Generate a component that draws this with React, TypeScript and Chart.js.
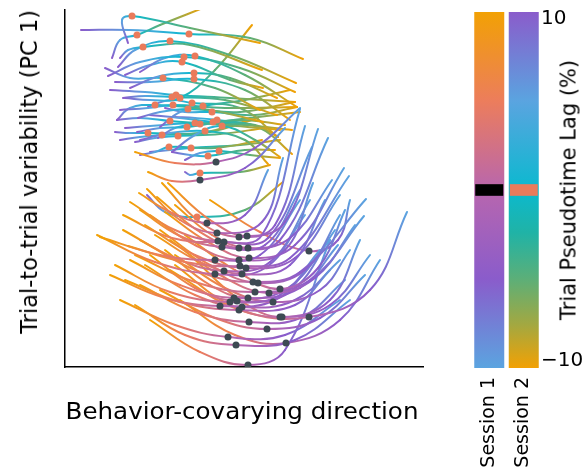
import React, { useEffect, useRef } from "react";
import { Chart, registerables } from "chart.js";

Chart.register(...registerables);

type Pt = [number, number];

// Trajectories in (behavior-covarying direction, trial-to-trial variability) units.
// Each runs from lag +10 % (first point) to lag -10 % (last point); the middle point is lag 0.
const session1Trajectories: Pt[][] = [
  [[70, 215], [110, 204], [151, 205], [190, 219], [235, 259]],
  [[83, 195], [107, 186], [135, 187], [180, 199], [220, 239]],
  [[74, 174], [105, 155], [142, 144], [180, 152], [203, 197]],
  [[82, 178], [115, 147], [152, 134], [197, 145], [218, 209]],
  [[97, 184], [135, 145], [174, 130], [210, 142], [240, 241]],
  [[103, 184], [145, 147], [182, 131], [220, 145], [253, 238]],
  [[65, 165], [110, 137], [153, 126], [197, 132], [235, 258]],
  [[58, 152], [107, 129], [159, 125], [203, 129], [247, 220]],
  [[75, 157], [115, 131], [157, 120], [200, 122], [235, 177]],
  [[92, 170], [135, 135], [174, 119], [215, 127], [263, 229]],
  [[110, 162], [147, 132], [183, 119], [225, 129], [267, 187]],
  [[35, 130], [95, 112], [150, 107], [195, 112], [235, 167]],
  [[85, 152], [130, 122], [174, 107], [220, 117], [248, 184]],
  [[100, 155], [143, 125], [184, 109], [230, 122], [279, 199]],
  [[63, 121], [120, 105], [175, 101], [225, 109], [284, 191]],
  [[80, 142], [130, 112], [181, 99], [230, 109], [275, 172]],
  [[90, 132], [135, 105], [177, 93], [225, 102], [260, 167]],
  [[32, 132], [90, 105], [150, 93], [200, 99], [240, 152]],
  [[58, 137], [110, 109], [159, 96], [205, 105], [245, 167]],
  [[75, 127], [135, 95], [188, 85], [235, 95], [301, 168]],
  [[95, 137], [145, 102], [193, 84], [240, 97], [275, 152]],
  [[70, 112], [130, 85], [190, 75], [245, 87], [299, 151]],
  [[105, 127], [155, 92], [204, 74], [250, 89], [290, 142]],
  [[120, 132], [170, 97], [215, 78], [253, 99], [280, 157]],
  [[65, 107], [115, 82], [169, 69], [220, 77], [265, 127]],
  [[50, 102], [105, 75], [165, 65], [215, 72], [255, 117]],
  [[85, 112], [130, 79], [172, 66], [225, 75], [270, 137]],
  [[100, 117], [145, 82], [183, 69], [235, 79], [273, 122]],
  [[110, 112], [160, 79], [208, 65], [255, 77], [285, 117]],
  [[45, 92], [100, 69], [155, 61], [210, 67], [250, 107]],
  [[80, 102], [130, 72], [177, 60], [230, 67], [275, 107]],
  [[60, 87], [115, 65], [174, 57], [230, 62], [265, 97]],
  [[110, 102], [165, 62], [215, 50], [265, 62], [305, 112]],
  [[125, 112], [175, 67], [217, 50], [265, 67], [295, 127]],
  [[105, 97], [175, 57], [244, 50], [305, 77], [342, 155]],
  [[75, 82], [130, 55], [184, 45], [235, 49], [280, 87]],
  [[95, 77], [150, 49], [202, 38], [255, 49], [300, 92]],
  [[55, 67], [110, 42], [163, 30], [220, 32], [275, 67]],
  [[70, 62], [120, 32], [171, 22], [230, 27], [285, 67]],
  [[115, 67], [170, 32], [221, 24], [275, 47], [315, 107]],
  [[85, 47], [135, 15], [183, 2], [220, 17], [265, 127]],
  [[145, 167], [195, 135], [244, 116], [273, 127], [285, 167]],
];

const session2Trajectories: Pt[][] = [
  [[63, 324], [57, 347], [67, 351], [125, 339], [195, 324]],
  [[47, 309], [55, 327], [72, 332], [95, 342], [138, 359]],
  [[55, 309], [63, 317], [78, 320], [125, 322], [197, 297]],
  [[16, 337], [65, 337], [124, 333], [185, 329], [238, 308]],
  [[53, 300], [70, 317], [105, 326], [165, 312], [231, 284]],
  [[43, 291], [75, 305], [119, 310], [175, 299], [230, 275]],
  [[75, 295], [100, 309], [130, 311], [180, 292], [232, 260]],
  [[60, 292], [85, 302], [117, 305], [165, 287], [198, 279]],
  [[65, 279], [95, 291], [129, 294], [165, 289], [212, 269]],
  [[50, 285], [85, 285], [129, 288], [180, 277], [225, 247]],
  [[40, 299], [65, 289], [98, 289], [150, 279], [195, 257]],
  [[58, 269], [80, 271], [107, 270], [160, 267], [212, 252]],
  [[45, 277], [80, 275], [111, 272], [165, 269], [230, 265]],
  [[60, 269], [85, 267], [115, 269], [150, 297], [187, 342]],
  [[55, 257], [83, 259], [108, 262], [160, 259], [232, 260]],
  [[52, 247], [65, 259], [90, 262], [145, 257], [198, 245]],
  [[83, 260], [105, 267], [127, 264], [175, 259], [213, 230]],
  [[73, 249], [95, 255], [123, 258], [175, 255], [230, 265]],
  [[95, 240], [115, 255], [138, 261], [180, 267], [225, 277]],
  [[100, 259], [120, 255], [147, 255], [190, 252], [232, 260]],
  [[52, 247], [75, 249], [105, 246], [160, 242], [215, 237]],
  [[72, 235], [95, 239], [122, 240], [175, 247], [220, 242]],
  [[60, 239], [85, 241], [130, 244], [180, 242], [227, 237]],
  [[93, 229], [110, 239], [135, 243], [185, 249], [235, 255]],
  [[85, 252], [115, 249], [148, 245], [190, 242], [213, 230]],
  [[110, 250], [130, 249], [152, 247], [195, 239], [227, 213]],
  [[107, 215], [130, 232], [157, 241], [190, 227], [215, 210]],
  [[75, 227], [105, 234], [140, 236], [180, 227], [203, 203]],
  [[50, 235], [65, 234], [83, 234], [135, 234], [185, 247]],
  [[55, 227], [75, 230], [97, 232], [145, 235], [193, 249]],
  [[70, 225], [90, 229], [113, 231], [155, 233], [200, 239]],
  [[75, 212], [90, 215], [104, 220], [150, 219], [197, 227]],
  [[85, 215], [105, 217], [126, 219], [175, 222], [215, 227]],
  [[107, 215], [125, 212], [143, 211], [180, 217], [210, 217]],
  [[120, 207], [135, 214], [154, 216], [185, 212], [215, 209]],
  [[120, 195], [125, 192], [135, 194], [175, 195], [205, 202]],
  [[82, 172], [100, 155], [132, 150], [180, 157], [218, 185]],
];

const sessionLabels = ["Session 1", "Session 2"];
const lagTicks = [-10, 10];
const lagLimits: [number, number] = [-10.4, 10.4];
const lagMarker: [number, number] = [-0.34, 0.34];
const xLimits: [number, number] = [0, 358];
const yLimits: [number, number] = [0, 357];

const xTitle = "Behavior-covarying direction";
const yTitle = "Trial-to-trial variability (PC 1)";
const barTitle = "Trial Pseudotime Lag (%)";

// colormaps: position 0 = lag +10, 1 = lag -10
const CMAP1: [number, string][] = [
  [0, "#f2a104"],
  [0.25, "#ec7d5c"],
  [0.5, "#b866ae"],
  [0.75, "#8a5ccb"],
  [1, "#5ba4e0"],
];
const CMAP2: [number, string][] = [
  [0, "#8a5ccb"],
  [0.25, "#5aa4e0"],
  [0.5, "#0bb9cf"],
  [0.62, "#20b3a6"],
  [0.75, "#5caf78"],
  [0.88, "#a4a840"],
  [1, "#f2a104"],
];
const DOT1 = "#3d4a53";
const DOT2 = "#ea7b5b";
const FONT = "'DejaVu Sans', sans-serif";

function hexToRgb(h: string): number[] {
  const v = parseInt(h.slice(1), 16);
  return [(v >> 16) & 255, (v >> 8) & 255, v & 255];
}

function cmap(stops: [number, string][], t: number): string {
  const tt = Math.max(0, Math.min(1, t));
  for (let i = 1; i < stops.length; i++) {
    if (tt <= stops[i][0]) {
      const [a, ca] = stops[i - 1];
      const [b, cb] = stops[i];
      const f = (tt - a) / (b - a || 1);
      const A = hexToRgb(ca);
      const B = hexToRgb(cb);
      const c = A.map((v, k) => Math.round(v + (B[k] - v) * f));
      return `rgb(${c[0]},${c[1]},${c[2]})`;
    }
  }
  return stops[stops.length - 1][1];
}

function segColor(stops: [number, string][]) {
  return (ctx: any) => {
    const ds = ctx.chart.data.datasets[ctx.datasetIndex];
    const n = ds.data.length;
    const t0 = ctx.p0DataIndex / (n - 1);
    const t1 = ctx.p1DataIndex / (n - 1);
    const g = ctx.chart.ctx.createLinearGradient(ctx.p0.x, ctx.p0.y, ctx.p1.x, ctx.p1.y);
    g.addColorStop(0, cmap(stops, t0));
    g.addColorStop(1, cmap(stops, t1));
    return g;
  };
}

function lineDatasets(trs: Pt[][], stops: [number, string][]) {
  return trs.map((tr) => ({
    data: tr.map(([x, y]) => ({ x, y })),
    borderColor: cmap(stops, 0.5),
    borderWidth: 2,
    pointRadius: 0,
    tension: 0.4,
    fill: false,
    borderCapStyle: "round" as const,
    borderJoinStyle: "round" as const,
    segment: { borderColor: segColor(stops) },
  }));
}

function dotDataset(trs: Pt[][], color: string) {
  return {
    data: trs.map((tr) => {
      const p = tr[Math.floor(tr.length / 2)];
      return { x: p[0], y: p[1] };
    }),
    showLine: false,
    pointRadius: 3.5,
    pointBackgroundColor: color,
    pointBorderWidth: 0,
    borderColor: color,
  };
}

export default function App() {
  const mainRef = useRef<HTMLCanvasElement>(null);
  const barRef = useRef<HTMLCanvasElement>(null);

  useEffect(() => {
    document.body.style.margin = "0";
    Chart.defaults.font.family = FONT;

    const main = new Chart(mainRef.current!, {
      type: "line",
      data: {
        datasets: [
          dotDataset(session2Trajectories, DOT2),
          dotDataset(session1Trajectories, DOT1),
          ...lineDatasets(session1Trajectories, CMAP1),
          ...lineDatasets(session2Trajectories, CMAP2),
        ] as any,
      },
      options: {
        responsive: false,
        animation: false,
        devicePixelRatio: 1,
        events: [],
        layout: { padding: { left: 65, right: 160, top: 10, bottom: 100 } },
        plugins: { legend: { display: false }, tooltip: { enabled: false } },
        scales: {
          x: {
            type: "linear",
            min: xLimits[0],
            max: xLimits[1],
            grid: { display: false, drawTicks: false },
            ticks: { display: false },
            border: { display: true, color: "#000", width: 1.5 },
            afterFit: (s: any) => {
              s.height = 0;
            },
          },
          y: {
            type: "linear",
            min: yLimits[0],
            max: yLimits[1],
            grid: { display: false, drawTicks: false },
            ticks: { display: false },
            border: { display: true, color: "#000", width: 1.5 },
            afterFit: (s: any) => {
              s.width = 0;
            },
          },
        },
      } as any,
    });

    const barGradient = (c: any) => {
      const chart = c.chart;
      const area = chart.chartArea;
      if (!area) return "transparent";
      const stops = c.dataIndex === 0 ? CMAP1 : CMAP2;
      const g = chart.ctx.createLinearGradient(0, area.top, 0, area.bottom);
      stops.forEach(([p, col]) => g.addColorStop(p, col));
      return g;
    };

    const bar = new Chart(barRef.current!, {
      type: "bar",
      data: {
        labels: sessionLabels,
        datasets: [
          {
            data: sessionLabels.map(() => lagMarker),
            backgroundColor: ["#000000", DOT2],
            grouped: false,
            categoryPercentage: 1,
            barPercentage: 28 / 34.5,
            borderWidth: 0,
          },
          {
            data: sessionLabels.map(() => lagLimits),
            backgroundColor: barGradient,
            grouped: false,
            categoryPercentage: 1,
            barPercentage: 30 / 34.5,
            borderWidth: 0,
          },
        ] as any,
      },
      options: {
        responsive: false,
        animation: false,
        devicePixelRatio: 1,
        events: [],
        layout: { padding: { left: 472, right: 0, top: 10, bottom: 99 } },
        plugins: { legend: { display: false }, tooltip: { enabled: false } },
        scales: {
          x: { display: false },
          y: {
            position: "right",
            min: lagLimits[0],
            max: lagLimits[1],
            afterBuildTicks: (s: any) => {
              s.ticks = lagTicks.map((v) => ({ value: v }));
            },
            grid: { display: false, drawTicks: false },
            border: { display: false },
            ticks: {
              padding: 0,
              color: "#000",
              font: { family: FONT, size: 20 },
              callback: (v: any) => String(v).replace("-", "\u2212"),
            },
            afterFit: (s: any) => {
              s.width = 42;
            },
          },
        },
      } as any,
    });

    return () => {
      main.destroy();
      bar.destroy();
    };
  }, []);

  const textBase: React.CSSProperties = {
    position: "absolute",
    whiteSpace: "nowrap",
    fontFamily: FONT,
    color: "#000",
  };

  return (
    <div style={{ position: "relative", width: 583, height: 467, overflow: "hidden" }}>
      <canvas ref={mainRef} width={583} height={467} style={{ position: "absolute", left: 0, top: 0 }} />
      <canvas ref={barRef} width={583} height={467} style={{ position: "absolute", left: 0, top: 0 }} />
      <div
        style={{
          ...textBase,
          left: 241.5,
          top: 400,
          fontSize: 22.5,
          lineHeight: "22.5px",
          transform: "translateX(-50%) scaleX(1.093)",
        }}
      >
        {xTitle}
      </div>
      <div
        style={{
          ...textBase,
          left: 18,
          top: 10,
          fontSize: 22.5,
          lineHeight: "22.5px",
          transformOrigin: "0 0",
          transform: "rotate(-90deg) translateX(-100%)",
        }}
      >
        {yTitle}
      </div>
      <div
        style={{
          ...textBase,
          left: 569,
          top: 189.5,
          fontSize: 21,
          lineHeight: "21px",
          transform: "translate(-50%, -50%) rotate(-90deg)",
        }}
      >
        {barTitle}
      </div>
      {sessionLabels.map((s, i) => (
        <div
          key={s}
          style={{
            ...textBase,
            left: i === 0 ? 478 : 512,
            top: 377,
            fontSize: 19,
            lineHeight: "19px",
            transformOrigin: "0 0",
            transform: "rotate(-90deg) translateX(-100%)",
          }}
        >
          {s}
        </div>
      ))}
    </div>
  );
}
